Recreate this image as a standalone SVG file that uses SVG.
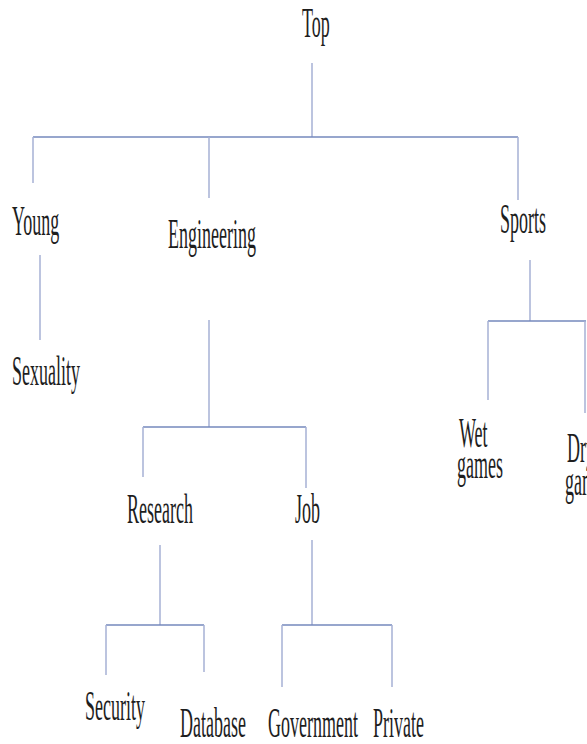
<svg xmlns="http://www.w3.org/2000/svg" width="587" height="744" viewBox="0 0 587 744">
<style>
.bg{fill:#ffffff}
.h{stroke:#7488bd;stroke-width:1.6;fill:none}
.v{stroke:#a6b0d4;stroke-width:1.5;fill:none}
.t{font-family:"Liberation Serif","Times New Roman",serif;font-size:18px;fill:#1e1e1e}
</style>
<rect class="bg" x="0" y="0" width="587" height="744"/>
<g id="connectors">
<path class="v" d="M312 63V137"/>
<path class="h" d="M33 137H518"/>
<path class="v" d="M33 137V183"/>
<path class="v" d="M209 137V198"/>
<path class="v" d="M518 137V200"/>
<path class="v" d="M40 255V340"/>
<path class="v" d="M530 260V321"/>
<path class="h" d="M488 321H586"/>
<path class="v" d="M488 321V400"/>
<path class="v" d="M585 321V413"/>
<path class="v" d="M209 320V427"/>
<path class="h" d="M143 427H306"/>
<path class="v" d="M143 427V477"/>
<path class="v" d="M306 427V488"/>
<path class="v" d="M160 545V625"/>
<path class="h" d="M106 625H204"/>
<path class="v" d="M106 625V675"/>
<path class="v" d="M204 625V672"/>
<path class="v" d="M312 540V625"/>
<path class="h" d="M282 625H392"/>
<path class="v" d="M282 625V687"/>
<path class="v" d="M392 625V687"/>
</g>
<g id="top"><text class="t" transform="translate(302 37) scale(1 2.35)">Top</text></g>
<g id="young"><text class="t" transform="translate(12 235) scale(1 2.35)">Young</text></g>
<g id="engineering"><text class="t" transform="translate(168 248) scale(1 2.35)">Engineering</text></g>
<g id="sports"><text class="t" transform="translate(500 233) scale(1 2.35)">Sports</text></g>
<g id="sexuality"><text class="t" transform="translate(12 385) scale(1 2.35)">Sexuality</text></g>
<g id="wet-games"><text class="t" transform="translate(459 447) scale(1 2.35)">Wet</text><text class="t" transform="translate(457 478) scale(1 2.35)">games</text></g>
<g id="dry-games"><text class="t" transform="translate(567 462) scale(1 2.35)">Dry</text><text class="t" transform="translate(565 495) scale(1 2.35)">games</text></g>
<g id="research"><text class="t" transform="translate(127 523) scale(1 2.35)">Research</text></g>
<g id="job"><text class="t" transform="translate(295 523) scale(1 2.35)">Job</text></g>
<g id="security"><text class="t" transform="translate(85 720) scale(1 2.35)">Security</text></g>
<g id="database"><text class="t" transform="translate(180 737) scale(1 2.35)">Database</text></g>
<g id="government"><text class="t" transform="translate(268 737) scale(1 2.35)">Government</text></g>
<g id="private"><text class="t" transform="translate(373 737) scale(1 2.35)">Private</text></g>
</svg>
